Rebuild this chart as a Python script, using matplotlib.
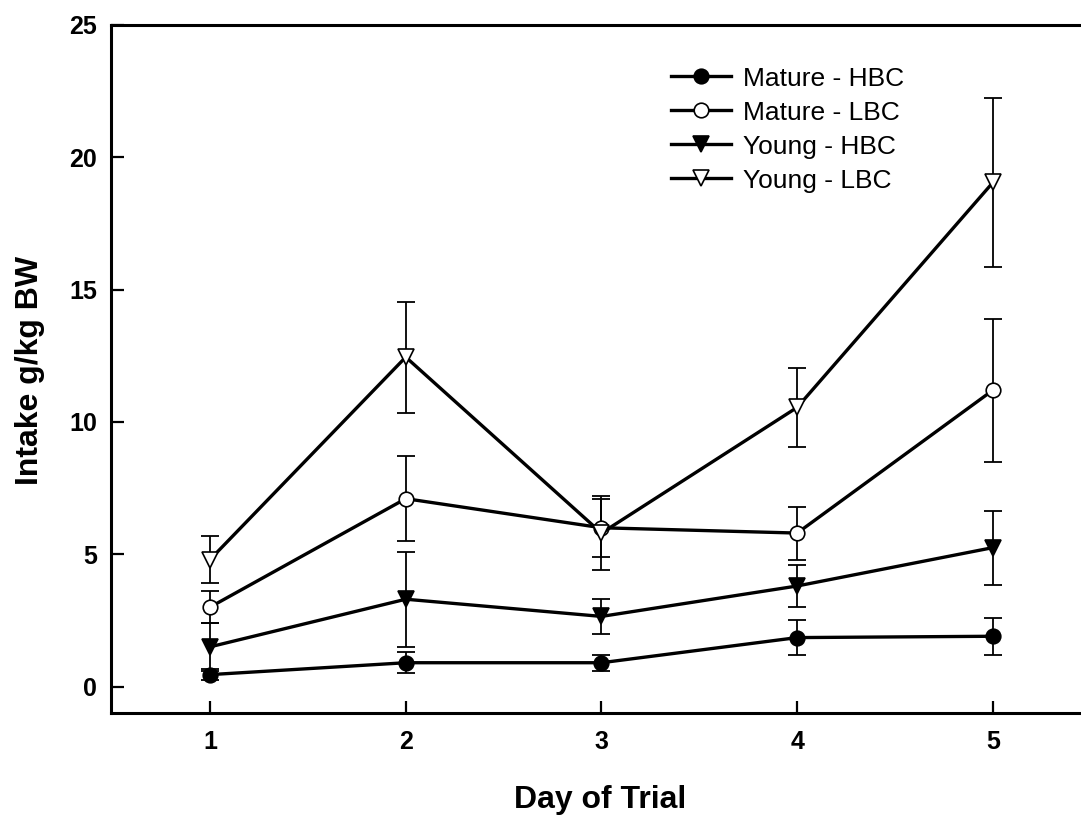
import matplotlib
matplotlib.use("Agg")
import matplotlib.pyplot as plt

plt.rcParams['font.family'] = ['Liberation Sans', 'DejaVu Sans']

# data
days = [1, 2, 3, 4, 5]
mature_hbc = [0.45, 0.9, 0.9, 1.85, 1.9]
mature_hbc_err = [0.2, 0.4, 0.3, 0.67, 0.7]
mature_lbc = [3.0, 7.1, 6.0, 5.8, 11.2]
mature_lbc_err = [0.6, 1.6, 1.1, 1.0, 2.7]
young_hbc = [1.5, 3.3, 2.65, 3.8, 5.25]
young_hbc_err = [0.9, 1.8, 0.65, 0.8, 1.4]
young_lbc = [4.8, 12.45, 5.8, 10.55, 19.05]
young_lbc_err = [0.9, 2.1, 1.4, 1.5, 3.2]

labels = ["Mature - HBC", "Mature - LBC", "Young - HBC", "Young - LBC"]

W, H = 1081, 817
fig = plt.figure(figsize=(W / 100, H / 100), dpi=100)
ax = fig.add_axes([111 / W, 1 - 713 / H, (W - 111) / W, (713 - 25) / H])

series = [
    (mature_hbc, mature_hbc_err, 'o', 'black', 10.5),
    (mature_lbc, mature_lbc_err, 'o', 'white', 10.5),
    (young_hbc, young_hbc_err, 'v', 'black', 11.5),
    (young_lbc, young_lbc_err, 'v', 'white', 11.5),
]

for (vals, errs, mk, fc, ms), lab in zip(series, labels):
    ax.errorbar(days, vals, yerr=errs, fmt='none', ecolor='black',
                elinewidth=1.3, capsize=6.5, capthick=1.3, zorder=2)
    ax.plot(days, vals, color='black', lw=2.4, marker=mk, markersize=ms,
            markerfacecolor=fc, markeredgecolor='black', markeredgewidth=1.2,
            label=lab, zorder=3)

ax.set_xlim(0.494, 5.45)
ax.set_ylim(-1, 25)
ax.set_xticks(days)
ax.set_yticks([0, 5, 10, 15, 20, 25])

for s in ['left', 'bottom', 'top']:
    ax.spines[s].set_linewidth(2.2)
ax.spines['right'].set_visible(False)

ax.tick_params(axis='both', direction='in', length=9, width=1.6,
               labelsize=18)
ax.tick_params(axis='x', pad=12, top=False)
ax.tick_params(axis='y', pad=10, right=False)
for t in ax.get_xticklabels() + ax.get_yticklabels():
    t.set_fontweight('bold')

fig.text(600 / W, 1 - 800 / H, 'Day of Trial', ha='center',
         va='center', fontsize=23, fontweight='bold')
fig.text(30 / W, 1 - 370 / H, 'Intake g/kg BW', ha='center', va='center',
         rotation=90, fontsize=23, fontweight='bold')

ax.legend(loc='upper left', bbox_to_anchor=(0.566, 0.955), frameon=False,
          fontsize=19, handlelength=2.3, handletextpad=0.45,
          labelspacing=0.38, borderaxespad=0)

fig.savefig('out.png', dpi=100)
